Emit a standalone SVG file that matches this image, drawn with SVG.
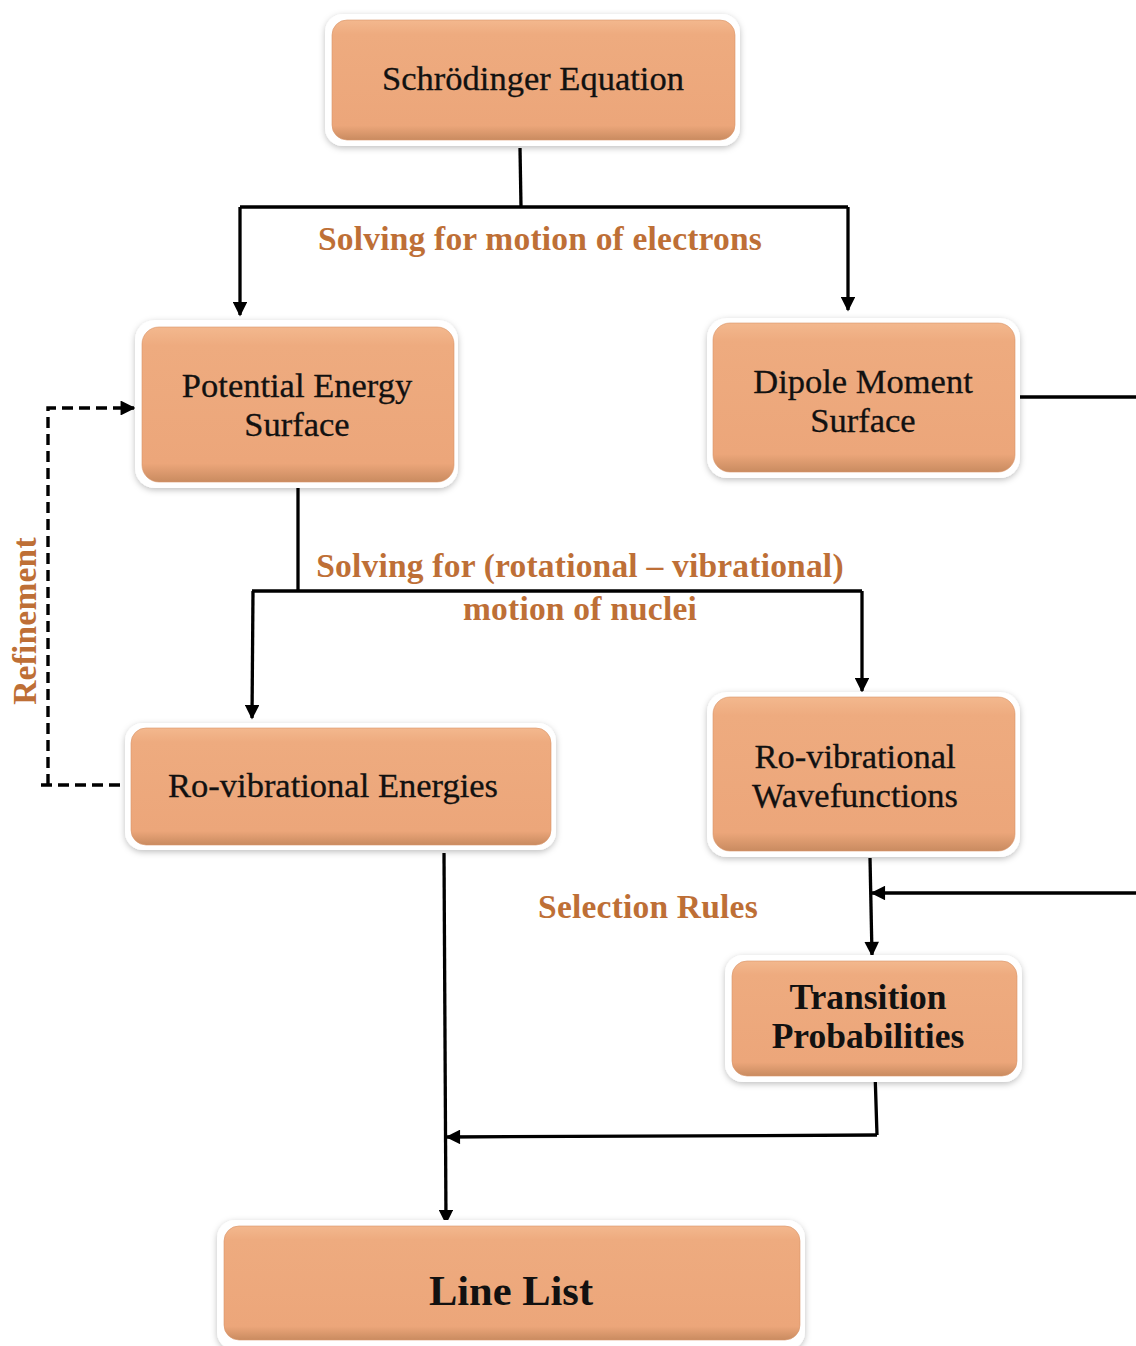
<svg xmlns="http://www.w3.org/2000/svg" width="1136" height="1346" viewBox="0 0 1136 1346">
<defs>
<linearGradient id="g" x1="0" y1="0" x2="0" y2="1">
<stop offset="0" stop-color="#F3B88E"/>
<stop offset="0.12" stop-color="#EEAB7F"/>
<stop offset="0.88" stop-color="#ECA67A"/>
<stop offset="1" stop-color="#C98B60"/>
</linearGradient>
<filter id="sh" x="-10%" y="-10%" width="120%" height="130%">
<feDropShadow dx="0" dy="2" stdDeviation="3" flood-color="#000" flood-opacity="0.25"/>
</filter>
<marker id="ah" viewBox="0 0 10 10" refX="9" refY="5" markerWidth="5" markerHeight="4.4" orient="auto" markerUnits="strokeWidth">
<path d="M0,0 L10,5 L0,10 Z" fill="#000"/>
</marker>
</defs>
<style>
.outer{fill:#fff;filter:url(#sh);}
.inner{fill:url(#g);stroke:#D89468;stroke-width:0.6;}
.t{font-family:"Liberation Serif","Times New Roman",serif;font-size:34.5px;fill:#111;text-anchor:middle;stroke:#111;stroke-width:0.3;}
.tb{font-family:"Liberation Serif","Times New Roman",serif;font-size:35.5px;font-weight:bold;fill:#111;text-anchor:middle;}
.lbl{font-family:"Liberation Serif","Times New Roman",serif;font-size:33.5px;font-weight:bold;fill:#BE6F36;text-anchor:middle;letter-spacing:0.2px;}
.c{fill:none;stroke:#000;stroke-width:3.3;}
.d{fill:none;stroke:#000;stroke-width:3.4;stroke-dasharray:11 6;}
</style>
<rect width="1136" height="1346" fill="#fff"/>

<g id="connectors">
<path class="c" d="M520,148 L521,207"/>
<path class="c" d="M240,207 L848,207"/>
<path class="c" d="M240,207 L240,315" marker-end="url(#ah)"/>
<path class="c" d="M848,207 L848,310" marker-end="url(#ah)"/>
<path class="c" d="M298,488 L298,591"/>
<path class="c" d="M252,591 L862,591"/>
<path class="c" d="M253,591 L252,718" marker-end="url(#ah)"/>
<path class="c" d="M862,591 L862,691" marker-end="url(#ah)"/>
<path class="c" d="M1020,397 L1136,397"/>
<path class="c" d="M1136,893 L872,893" marker-end="url(#ah)"/>
<path class="c" d="M870,858 L872,955" marker-end="url(#ah)"/>
<path class="c" d="M875,1072 L877,1135"/>
<path class="c" d="M877,1135 L447,1137" marker-end="url(#ah)"/>
<path class="c" d="M444,853 L446,1223" marker-end="url(#ah)"/>
<path class="d" d="M120,785 L40,785"/>
<path class="d" d="M48,785 L48,408 L134,408" marker-end="url(#ah)"/>
</g>

<g id="labels">
<text class="lbl" x="540" y="250">Solving for motion of electrons</text>
<text class="lbl" x="580" y="577">Solving for (rotational – vibrational)</text>
<text class="lbl" x="580" y="620">motion of nuclei</text>
<text class="lbl" x="648" y="918">Selection Rules</text>
<text class="lbl" transform="translate(36,621) rotate(-90)">Refinement</text>
</g>

<g id="schrodinger">
<rect class="outer" x="325" y="14" width="415" height="132" rx="18"/>
<rect class="inner" x="332" y="20" width="403" height="120" rx="15"/>
<text class="t" x="533" y="90">Schrödinger Equation</text>
</g>

<g id="pes">
<rect class="outer" x="135" y="320" width="323" height="168" rx="20"/>
<rect class="inner" x="142" y="327" width="312" height="155" rx="17"/>
<text class="t" x="297" y="397">Potential Energy</text>
<text class="t" x="297" y="436">Surface</text>
</g>

<g id="dms">
<rect class="outer" x="707" y="318" width="313" height="160" rx="20"/>
<rect class="inner" x="713" y="323" width="302" height="149" rx="17"/>
<text class="t" x="863" y="393">Dipole Moment</text>
<text class="t" x="863" y="432">Surface</text>
</g>

<g id="rve">
<rect class="outer" x="125" y="723" width="431" height="127" rx="18"/>
<rect class="inner" x="131" y="728" width="420" height="117" rx="15"/>
<text class="t" x="333" y="797">Ro-vibrational Energies</text>
</g>

<g id="rvw">
<rect class="outer" x="707" y="692" width="313" height="165" rx="20"/>
<rect class="inner" x="713" y="697" width="302" height="154" rx="17"/>
<text class="t" x="855" y="768">Ro-vibrational</text>
<text class="t" x="855" y="807">Wavefunctions</text>
</g>

<g id="tp">
<rect class="outer" x="725" y="955" width="297" height="127" rx="18"/>
<rect class="inner" x="732" y="961" width="285" height="115" rx="15"/>
<text class="tb" x="868" y="1009">Transition</text>
<text class="tb" x="868" y="1048">Probabilities</text>
</g>

<g id="linelist">
<rect class="outer" x="217" y="1220" width="588" height="130" rx="18"/>
<rect class="inner" x="224" y="1226" width="576" height="114" rx="15"/>
<text class="tb" x="511" y="1305" style="font-size:42.5px">Line List</text>
</g>
</svg>
